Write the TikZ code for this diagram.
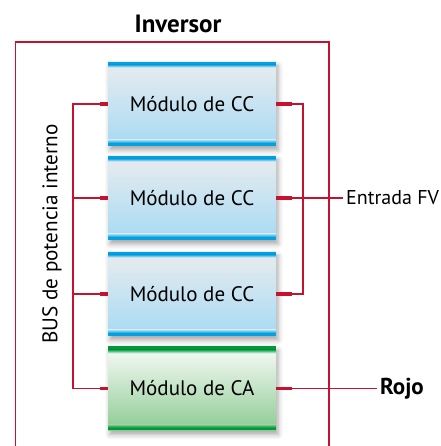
\documentclass[tikz,border=0pt]{standalone}
\usepackage{fontspec}
\setmainfont{PT Sans}
\usetikzlibrary{shadows.blur,calc}
\definecolor{redline}{HTML}{C4122F}
\definecolor{stripblue}{HTML}{00A3E0}
\definecolor{cctop}{HTML}{E9ECEF}
\definecolor{ccbot}{HTML}{A6DAF3}
\definecolor{stripgreen}{HTML}{009A3E}
\definecolor{catop}{HTML}{F8FBF7}
\definecolor{cabot}{HTML}{8DCB93}
\tikzset{
  wire/.style={draw=redline, line width=1.6pt},
  wirethick/.style={draw=redline, line width=3.2pt},
  modbase/.style={minimum width=168pt, minimum height=84pt, inner sep=0pt,
    font=\fontsize{21}{25}\selectfont,
    blur shadow={shadow xshift=2pt, shadow yshift=-4pt, shadow blur radius=5pt, shadow opacity=35}},
  ccmod/.style={modbase, top color=cctop, bottom color=ccbot,
    path picture={
      \fill[stripblue] (path picture bounding box.north west) rectangle ([yshift=-2.5pt]path picture bounding box.north east);
      \shade[top color=stripblue, bottom color=cctop] ([yshift=-2.5pt]path picture bounding box.north west) rectangle ([yshift=-5.5pt]path picture bounding box.north east);
      \fill[stripblue] (path picture bounding box.south west) rectangle ([yshift=3pt]path picture bounding box.south east);
      \shade[top color=ccbot, bottom color=stripblue] ([yshift=3pt]path picture bounding box.south west) rectangle ([yshift=6pt]path picture bounding box.south east);
    }},
  camod/.style={modbase, top color=catop, bottom color=cabot,
    path picture={
      \fill[stripgreen] (path picture bounding box.north west) rectangle ([yshift=-3pt]path picture bounding box.north east);
      \shade[top color=stripgreen, bottom color=catop] ([yshift=-3pt]path picture bounding box.north west) rectangle ([yshift=-7pt]path picture bounding box.north east);
      \fill[stripgreen] (path picture bounding box.south west) rectangle ([yshift=3pt]path picture bounding box.south east);
      \shade[top color=cabot, bottom color=stripgreen] ([yshift=3pt]path picture bounding box.south west) rectangle ([yshift=6pt]path picture bounding box.south east);
    }},
  lbl/.style={inner sep=0pt, font=\fontsize{20}{24}\selectfont},
  busfont/.style={inner sep=0pt, font=\fontsize{21.2}{25}\selectfont},
  titlefont/.style={inner sep=0pt, font=\fontsize{25}{30}\selectfont\bfseries},
  rojofont/.style={inner sep=0pt, font=\fontsize{23}{28}\selectfont\bfseries}
}
\begin{document}
\begin{tikzpicture}[x=1pt,y=1pt]
\useasboundingbox (0,0) rectangle (440,446);
% frame
\draw[wire] (15.5,-2) coordinate (fbl) -- (15.5,404) coordinate (ftl) -- (329,404) coordinate (ftr) -- (329,-2) coordinate (fbr);
\node[titlefont] (title) at (178,422) {Inversor};
% modules
\node[ccmod] (m1) at (192,342) {Módulo de CC};
\node[ccmod] (m2) at (192,248) {Módulo de CC};
\node[ccmod] (m3) at (192,152) {Módulo de CC};
\node[camod] (m4) at (192,57.5) {Módulo de CA};
% labels
\node[lbl, anchor=west] (fv) at (346,248) {Entrada FV};
\node[rojofont, anchor=west] (rojo) at (380,57.5) {Rojo};
\node[busfont, rotate=90] (bus) at (52,212) {BUS de potencia interno};
% bus coordinates
\coordinate (lb) at (73,0);
\coordinate (rb) at (303,0);
% left bus
\draw[wire] (m1.west) -| (m1.west -| lb) |- (m4.west);
\draw[wire] (m2.west) -- (m2.west -| lb);
\draw[wire] (m3.west) -- (m3.west -| lb);
\foreach \m in {m1,m2,m3,m4} \draw[wirethick] (\m.west) -- ++(-8,0);
% right bus
\draw[wire] (m1.east) -| (m1.east -| rb) |- (m3.east);
\draw[wire] (m2.east) -- ([xshift=-3pt]fv.west);
\draw[wire] (m4.east) -- ([xshift=-3pt]rojo.west);
\foreach \m in {m1,m2,m3,m4} \draw[wirethick] (\m.east) -- ++(16,0);
\end{tikzpicture}
\end{document}
